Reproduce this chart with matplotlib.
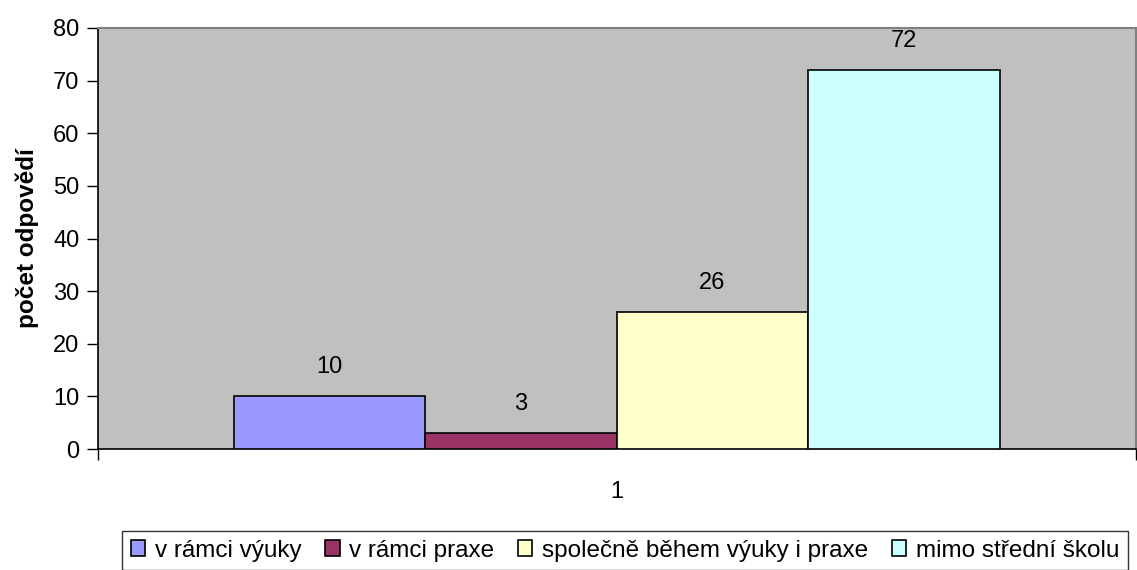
import matplotlib.pyplot as plt
from matplotlib.patches import Patch

plt.rcParams['font.family'] = ['Liberation Sans', 'DejaVu Sans']

# data
labels = ['v rámci výuky', 'v rámci praxe', 'společně během výuky i praxe', 'mimo střední školu']
values = [10, 3, 26, 72]
colors = ['#9999FF', '#993366', '#FFFFCC', '#CCFFFF']
category = '1'

fig = plt.figure(figsize=(11.37, 5.7), dpi=100)
ax = fig.add_axes([97.5 / 1137, 1 - 449 / 570, (1136 - 97.5) / 1137, (449 - 28) / 570])
ax.set_facecolor('#C0C0C0')

w = 0.1844
start = 0.5 - 2 * w
for i, (v, c) in enumerate(zip(values, colors)):
    x = start + i * w
    ax.bar(x, v, width=w, align='edge', color=c, edgecolor='black', linewidth=1.2, zorder=3)
    ax.annotate(str(v), (x + w / 2, v), xytext=(0, 21), textcoords='offset points',
                ha='center', va='center', fontsize=17)

ax.set_xlim(0, 1)
ax.set_ylim(0, 80)
ax.set_yticks(range(0, 81, 10))
ax.tick_params(axis='y', labelsize=17, length=8, width=1, pad=5)
ax.set_xticks([0, 1])
ax.set_xticklabels(['', ''])
ax.tick_params(axis='x', length=8, width=1)
ax.text(0.5, -0.075, category, transform=ax.transAxes, ha='center', va='top', fontsize=17)

for s in ['top', 'right']:
    ax.spines[s].set_color('#808080')
    ax.spines[s].set_linewidth(1.5)
for s in ['left', 'bottom']:
    ax.spines[s].set_color('black')
    ax.spines[s].set_linewidth(1.2)

ax.set_ylabel('počet odpovědí', fontsize=17.5, fontweight='bold', labelpad=10)

handles = [Patch(facecolor=c, edgecolor='black', linewidth=1.2) for c in colors]
leg = fig.legend(handles, labels, loc='upper left',
                 bbox_to_anchor=(122 / 1137, 1 - 531 / 570, (1128 - 122) / 1137, 0),
                 mode='expand', ncol=4, fontsize=17.5, frameon=True, fancybox=False,
                 handlelength=0.6, handleheight=0.6, handletextpad=0.4, columnspacing=0.6,
                 borderpad=0.35, borderaxespad=0)
leg.get_frame().set_edgecolor('black')
leg.get_frame().set_linewidth(1)

fig.savefig('out.png', dpi=100)
